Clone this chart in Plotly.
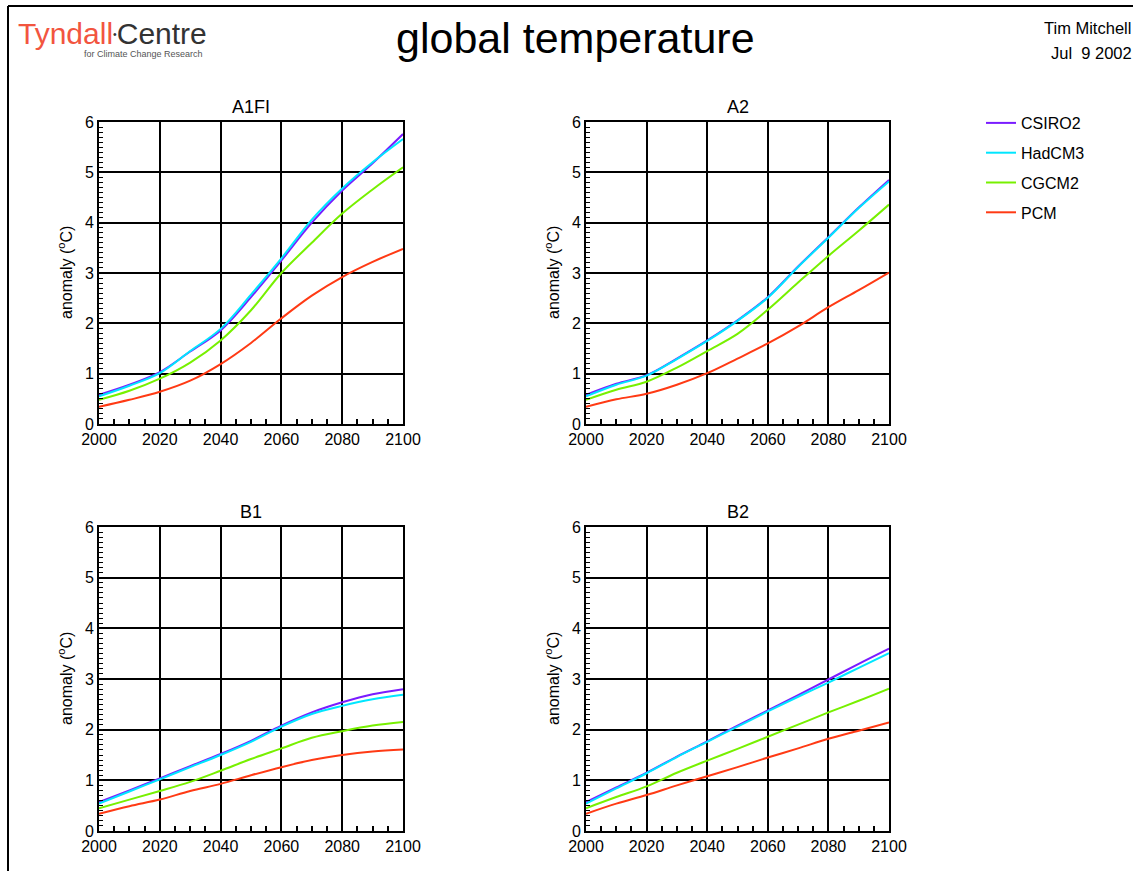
import plotly.graph_objects as go
from plotly.subplots import make_subplots

years = [2000, 2010, 2020, 2030, 2040, 2050, 2060, 2070, 2080, 2090, 2100]
models = ["CSIRO2", "HadCM3", "CGCM2", "PCM"]
colors = ["#7a1cff", "#00e6ff", "#77f000", "#ff3a14"]
panels = ["A1FI", "A2", "B1", "B2"]

a1fi_csiro = [0.58, 0.78, 1.03, 1.44, 1.86, 2.52, 3.25, 4.00, 4.64, 5.18, 5.76]
a1fi_had   = [0.55, 0.76, 1.01, 1.45, 1.89, 2.57, 3.29, 4.06, 4.68, 5.20, 5.66]
a1fi_cgcm  = [0.48, 0.66, 0.90, 1.22, 1.66, 2.26, 3.00, 3.60, 4.18, 4.66, 5.10]
a1fi_pcm   = [0.34, 0.48, 0.64, 0.86, 1.19, 1.61, 2.10, 2.55, 2.92, 3.22, 3.48]

a2_csiro = [0.58, 0.80, 0.97, 1.30, 1.66, 2.06, 2.52, 3.13, 3.71, 4.30, 4.85]
a2_had   = [0.55, 0.78, 0.96, 1.29, 1.65, 2.05, 2.51, 3.12, 3.70, 4.29, 4.82]
a2_cgcm  = [0.48, 0.68, 0.84, 1.12, 1.45, 1.79, 2.27, 2.81, 3.34, 3.84, 4.36]
a2_pcm   = [0.34, 0.49, 0.60, 0.78, 1.01, 1.30, 1.60, 1.94, 2.32, 2.66, 3.01]

b1_csiro = [0.57, 0.80, 1.04, 1.28, 1.52, 1.78, 2.08, 2.34, 2.54, 2.70, 2.80]
b1_had   = [0.54, 0.78, 1.02, 1.26, 1.50, 1.76, 2.06, 2.31, 2.47, 2.60, 2.69]
b1_cgcm  = [0.45, 0.62, 0.79, 0.97, 1.19, 1.42, 1.63, 1.84, 1.97, 2.08, 2.15]
b1_pcm   = [0.34, 0.49, 0.62, 0.79, 0.93, 1.10, 1.26, 1.40, 1.50, 1.57, 1.61]

b2_csiro = [0.57, 0.86, 1.15, 1.47, 1.77, 2.08, 2.38, 2.68, 2.99, 3.30, 3.60]
b2_had   = [0.54, 0.84, 1.14, 1.46, 1.76, 2.06, 2.36, 2.65, 2.93, 3.22, 3.51]
b2_cgcm  = [0.45, 0.67, 0.88, 1.15, 1.39, 1.62, 1.86, 2.10, 2.34, 2.57, 2.81]
b2_pcm   = [0.34, 0.54, 0.71, 0.90, 1.08, 1.26, 1.45, 1.63, 1.82, 1.98, 2.14]

panel_data = {
    "A1FI": [a1fi_csiro, a1fi_had, a1fi_cgcm, a1fi_pcm],
    "A2": [a2_csiro, a2_had, a2_cgcm, a2_pcm],
    "B1": [b1_csiro, b1_had, b1_cgcm, b1_pcm],
    "B2": [b2_csiro, b2_had, b2_cgcm, b2_pcm],
}

W, H = 1133, 871
FONT = "Liberation Sans, Arial, sans-serif"

fig = make_subplots(rows=2, cols=2)
pos = {"A1FI": (1, 1), "A2": (1, 2), "B1": (2, 1), "B2": (2, 2)}
for p in panels:
    r, c = pos[p]
    for i, m in enumerate(models):
        fig.add_trace(go.Scatter(
            x=years, y=panel_data[p][i], mode="lines", name=m,
            line=dict(color=colors[i], width=2, shape="spline", smoothing=1.0),
            legendgroup=m, showlegend=(p == "A1FI"),
        ), row=r, col=c)

xdom = {1: [99 / W, 403 / W], 2: [586 / W, 889 / W]}
ydom = {1: [1 - 424 / H, 1 - 122 / H], 2: [1 - 831 / H, 1 - 527 / H]}

axis_common = dict(
    showline=True, linecolor="black", linewidth=2, mirror=True,
    showgrid=True, gridcolor="black", gridwidth=2,
    zeroline=False, ticks="inside", ticklen=6, tickcolor="black", tickwidth=1.5,
    tickfont=dict(family=FONT, size=16, color="black"),
)
for p in panels:
    r, c = pos[p]
    fig.update_xaxes(range=[2000, 2100], dtick=20, tick0=2000, domain=xdom[c],
                     minor=dict(dtick=5, ticks="inside", ticklen=5, tickcolor="black", tickwidth=1.5, showgrid=False),
                     row=r, col=c, **axis_common)
    fig.update_yaxes(range=[0, 6], dtick=1, domain=ydom[r],
                     minor=dict(dtick=0.1, ticks="inside", ticklen=4, tickcolor="black", tickwidth=1, showgrid=False),
                     row=r, col=c, **axis_common)

annotations = []
for p in panels:
    r, c = pos[p]
    xc = (xdom[c][0] + xdom[c][1]) / 2
    annotations.append(dict(text=p, x=xc, y=ydom[r][1] + 3 / H, xref="paper", yref="paper",
                            xanchor="center", yanchor="bottom", showarrow=False,
                            font=dict(family=FONT, size=18, color="black")))
    annotations.append(dict(text="anomaly (<sup>o</sup>C)", x=xdom[c][0] - 34 / W,
                            y=(ydom[r][0] + ydom[r][1]) / 2, xref="paper", yref="paper",
                            xanchor="center", yanchor="middle", textangle=-90, showarrow=False,
                            font=dict(family=FONT, size=16, color="black")))

annotations.append(dict(text="global temperature", x=575 / W, y=1 - 38 / H, xref="paper", yref="paper",
                        xanchor="center", yanchor="middle", showarrow=False,
                        font=dict(family=FONT, size=43, color="black")))
annotations.append(dict(text="Tim Mitchell", x=1133 / W, y=1 - 28 / H, xref="paper", yref="paper",
                        xanchor="right", yanchor="middle", showarrow=False,
                        font=dict(family=FONT, size=16.5, color="black")))
annotations.append(dict(text="Jul&nbsp; 9 2002", x=1134 / W, y=1 - 53 / H, xref="paper", yref="paper",
                        xanchor="right", yanchor="middle", showarrow=False,
                        font=dict(family=FONT, size=16.5, color="black")))
annotations.append(dict(text="<span style='color:#f2553f'>Tyndall</span><span style='font-size:15px'><sup>•</sup></span>Centre",
                        x=16 / W, y=1 - 33 / H, xref="paper", yref="paper",
                        xanchor="left", yanchor="middle", showarrow=False,
                        font=dict(family=FONT, size=30, color="#333333")))
annotations.append(dict(text="for Climate Change Research", x=205 / W, y=1 - 54 / H, xref="paper", yref="paper",
                        xanchor="right", yanchor="middle", showarrow=False,
                        font=dict(family=FONT, size=9, color="#555555")))

shapes = [
    dict(type="line", xref="paper", yref="paper", x0=8 / W, x1=1.0, y0=1 - 6 / H, y1=1 - 6 / H,
         line=dict(color="black", width=2)),
    dict(type="line", xref="paper", yref="paper", x0=8 / W, x1=8 / W, y0=1 - 6 / H, y1=0,
         line=dict(color="black", width=2)),
]

fig.update_layout(
    width=W, height=H, margin=dict(l=0, r=0, t=0, b=0, autoexpand=False),
    paper_bgcolor="white", plot_bgcolor="white",
    annotations=annotations, shapes=shapes,
    showlegend=True,
    legend=dict(x=981 / W, y=1 - 106 / H, xanchor="left", yanchor="top",
                font=dict(family=FONT, size=16, color="black"),
                bgcolor="rgba(0,0,0,0)", tracegroupgap=6, itemwidth=30),
)

fig.write_html("out.html")
